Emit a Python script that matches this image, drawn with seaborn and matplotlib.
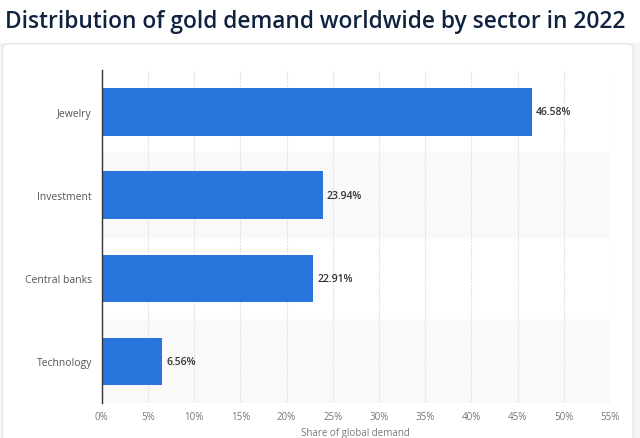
import matplotlib
matplotlib.use('Agg')
import matplotlib.pyplot as plt
import seaborn as sns
import pandas as pd
from matplotlib.patches import FancyBboxPatch, Rectangle

sectors = ['Jewelry', 'Investment', 'Central banks', 'Technology']
shares = [46.58, 23.94, 22.91, 6.56]
x_ticks = [0, 5, 10, 15, 20, 25, 30, 35, 40, 45, 50, 55]

df = pd.DataFrame({'sector': sectors, 'share': shares})

sns.set_theme(style="white")
plt.rcParams['font.family'] = ['Open Sans', 'DejaVu Sans']

fig = plt.figure(figsize=(6.4, 4.39), dpi=100, facecolor='white')

# page background: light strip, then white card
fig.patches.append(Rectangle((0, 0), 1, 1, transform=fig.transFigure,
                             facecolor='#f3f4f6', edgecolor='none', zorder=-3))
fig.patches.append(Rectangle((0, 0.90), 1, 0.10, transform=fig.transFigure,
                             facecolor='white', edgecolor='none', zorder=-2))
fig.patches.append(FancyBboxPatch((0.004, -0.02), 0.985, 0.918,
                                  boxstyle='round,pad=0,rounding_size=0.01',
                                  transform=fig.transFigure, facecolor='white',
                                  edgecolor='#e2e3e6', linewidth=0.8, zorder=-1))

fig.text(0.008, 0.977, 'Distribution of gold demand worldwide by sector in 2022',
         fontsize=16.4, color='#0f2340', ha='left', va='top', fontweight='semibold')

ax = fig.add_axes([0.159, 0.0797, 0.794, 0.758])
ax.set_facecolor('none')

for i in range(len(sectors)):
    if i % 2 == 1:
        ax.axhspan(i - 0.5, i + 0.5, color='#f9f9f9', zorder=0)

sns.barplot(data=df, x='share', y='sector', color='#2876dd', width=0.57,
            saturation=1, edgecolor='none', linewidth=0, ax=ax, zorder=3)

for i, v in enumerate(shares):
    ax.text(v + 0.4, i, f'{v:.2f}%', va='center', ha='left', fontsize=7.5,
            color='#333333', fontweight='semibold', zorder=4)

ax.set_xlim(0, 55)
ax.set_ylim(len(sectors) - 0.5, -0.5)
ax.set_xticks(x_ticks)
ax.set_xticklabels([f'{t}%' for t in x_ticks])
ax.xaxis.grid(True, color='#e3e3e3', linestyle=(0, (2, 1)), linewidth=0.8, zorder=1)
ax.set_axisbelow(True)
ax.tick_params(axis='x', labelsize=7, colors='#777777', length=0, pad=6)
ax.tick_params(axis='y', labelsize=7.5, colors='#555555', length=0, pad=7)
ax.set_ylabel('')
ax.set_xlabel('Share of global demand', fontsize=7, color='#777777', labelpad=3)

for s in ['top', 'right', 'bottom']:
    ax.spines[s].set_visible(False)
ax.spines['left'].set_color('#333333')
ax.spines['left'].set_linewidth(1.0)
ax.spines['left'].set_zorder(5)

fig.savefig('out.png', dpi=100, facecolor=fig.get_facecolor())
